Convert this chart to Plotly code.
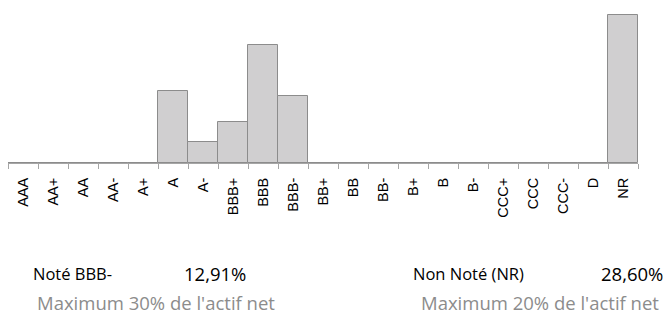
import plotly.graph_objects as go

categories = ["AAA", "AA+", "AA", "AA-", "A+", "A", "A-", "BBB+", "BBB", "BBB-",
              "BB+", "BB", "BB-", "B+", "B", "B-", "CCC+", "CCC", "CCC-", "D", "NR"]
values = [0, 0, 0, 0, 0, 14.0, 4.0, 7.96, 22.87, 12.91,
          0, 0, 0, 0, 0, 0, 0, 0, 0, 0, 28.60]

label_rated = "Noté BBB-"
value_rated = "12,91%"
limit_rated = "Maximum 30% de l'actif net"
label_nr = "Non Noté (NR)"
value_nr = "28,60%"
limit_nr = "Maximum 20% de l'actif net"

W, H = 666, 316
L, R, T, B = 8, 28, 10, 153
pw, ph = W - L - R, H - T - B

def px(x):
    return (x - L) / pw

def py(y):
    return (H - B - y) / ph

fig = go.Figure(go.Bar(
    x=categories, y=values,
    marker=dict(color="#d0cfd0", line=dict(color="#8c8c8c", width=1)),
    hoverinfo="skip",
))

fig.update_layout(
    width=W, height=H,
    margin=dict(l=L, r=R, t=T, b=B, pad=0, autoexpand=False),
    paper_bgcolor="white", plot_bgcolor="white",
    bargap=0, showlegend=False,
    xaxis=dict(
        type="category", tickangle=-90, tickson="boundaries",
        ticks="outside", ticklen=5, tickcolor="#a6a6a6",
        showline=True, linecolor="#a6a6a6", linewidth=1,
        showgrid=False, zeroline=False, automargin=False,
        tickfont=dict(family="Liberation Sans, Arial", size=14.5, color="#000000"),
        ticklabelstandoff=8,
    ),
    yaxis=dict(range=[0, 29.6], visible=False, showgrid=False, zeroline=False,
               automargin=False),
)

def ann(text, x, y, color, anchor="left", size=18.5):
    fig.add_annotation(
        text=text, x=px(x), y=py(y), xref="paper", yref="paper",
        xanchor=anchor, yanchor="middle", showarrow=False,
        font=dict(family="Open Sans", size=size, color=color),
    )

ann(label_rated, 31, 273, "#000000", size=16.5)
ann(value_rated, 182, 273, "#000000")
ann(limit_rated, 35, 302, "#8c8c8c")
ann(label_nr, 411, 273, "#000000", size=16.5)
ann(value_nr, 665, 273, "#000000", anchor="right")
ann(limit_nr, 419, 302, "#8c8c8c")

fig.write_html("out.html", config={"displayModeBar": False},
               post_script="document.body.style.margin='0';")
